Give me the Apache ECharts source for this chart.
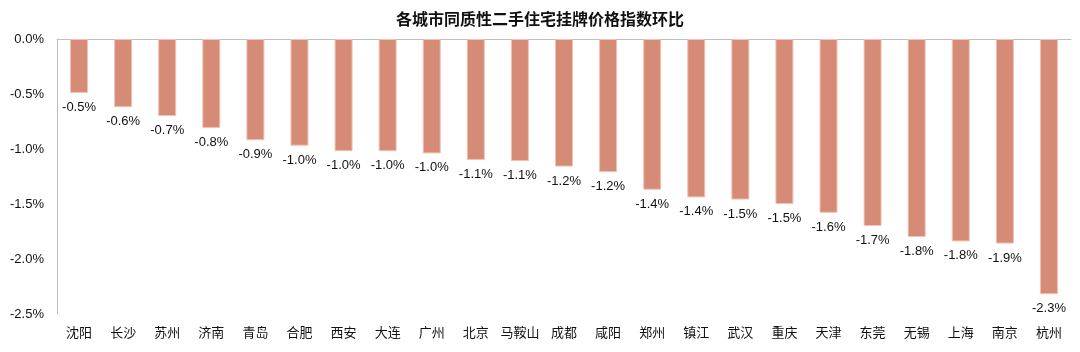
<!DOCTYPE html>
<html>
<head>
<meta charset="utf-8">
<script src="https://cdn.jsdelivr.net/npm/echarts@6/dist/echarts.min.js"></script>
<style>
  html, body { margin: 0; padding: 0; background: #fff; }
  #chart { width: 1080px; height: 352px; }
</style>
</head>
<body>
<div id="chart"></div>
<script>
var cities = ['沈阳', '长沙', '苏州', '济南', '青岛', '合肥', '西安', '大连', '广州', '北京', '马鞍山', '成都',
    '咸阳', '郑州', '镇江', '武汉', '重庆', '天津', '东莞', '无锡', '上海', '南京', '杭州'];
var mom = [-0.49, -0.62, -0.70, -0.81, -0.92, -0.97, -1.02, -1.02, -1.04, -1.10, -1.11, -1.16,
    -1.21, -1.37, -1.44, -1.46, -1.50, -1.58, -1.70, -1.80, -1.84, -1.86, -2.32];
var yTicks = [0, -0.5, -1.0, -1.5, -2.0, -2.5];

var font = '"Liberation Sans", Arial, "Noto Sans CJK SC", sans-serif';
var myChart = echarts.init(document.getElementById('chart'));
var option = {
    animation: false,
    title: {
        text: '各城市同质性二手住宅挂牌价格指数环比',
        left: 'center',
        top: 6,
        textStyle: {
            fontFamily: '"Noto Sans CJK SC", sans-serif',
            fontSize: 16,
            fontWeight: 'bold',
            color: '#111'
        }
    },
    grid: {
        left: 57,
        right: 9,
        top: 39,
        bottom: 38
    },
    xAxis: [{
        type: 'category',
        position: 'top',
        data: cities,
        axisLine: { lineStyle: { color: '#bfbfbf', width: 1 } },
        axisTick: { inside: true, length: 4, lineStyle: { color: '#bfbfbf' } },
        axisLabel: { show: false }
    }, {
        type: 'category',
        position: 'bottom',
        data: cities,
        axisLine: { show: false },
        axisTick: { show: false },
        axisLabel: {
            margin: 12,
            fontSize: 13,
            color: '#111',
            fontFamily: '"Noto Sans CJK SC", sans-serif',
            interval: 0
        }
    }],
    yAxis: {
        type: 'value',
        min: yTicks[yTicks.length - 1],
        max: yTicks[0],
        interval: 0.5,
        axisLine: { show: true, lineStyle: { color: '#bfbfbf', width: 1 } },
        axisTick: { show: false },
        splitLine: { show: false },
        axisLabel: {
            margin: 13,
            fontSize: 13,
            color: '#111',
            fontFamily: font,
            formatter: function (v) { return v.toFixed(1) + '%'; }
        }
    },
    series: [{
        name: '环比',
        type: 'bar',
        xAxisIndex: 0,
        barWidth: 18,
        data: mom,
        itemStyle: {
            color: '#d68b77',
            borderColor: '#f0c3b5',
            borderWidth: 1
        },
        label: {
            show: true,
            position: 'bottom',
            distance: 8,
            fontSize: 13,
            color: '#111',
            fontFamily: font,
            formatter: function (p) { return p.value.toFixed(1) + '%'; }
        }
    }]
};
myChart.setOption(option);
</script>
</body>
</html>
